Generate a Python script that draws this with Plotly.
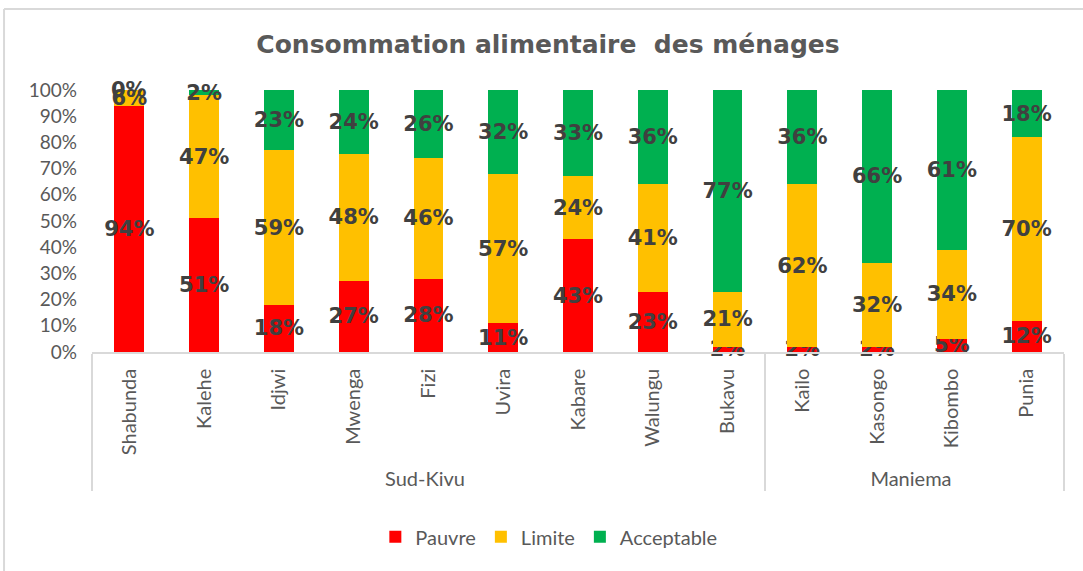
import plotly.graph_objects as go

# Données (en %)
provinces = ["Sud-Kivu"] * 9 + ["Maniema"] * 4
territoires = ["Shabunda", "Kalehe", "Idjwi", "Mwenga", "Fizi", "Uvira", "Kabare",
               "Walungu", "Bukavu", "Kailo", "Kasongo", "Kibombo", "Punia"]
pauvre = [94, 51, 18, 27, 28, 11, 43, 23, 2, 2, 2, 5, 12]
limite = [6, 47, 59, 48, 46, 57, 24, 41, 21, 62, 32, 34, 70]
acceptable = [0, 2, 23, 24, 26, 32, 33, 36, 77, 36, 66, 61, 18]
y_ticks = [0, 10, 20, 30, 40, 50, 60, 70, 80, 90, 100]

series = [
    ("Pauvre", pauvre, "#FF0000"),
    ("Limite", limite, "#FFC000"),
    ("Acceptable", acceptable, "#00B050"),
]

label_font = dict(family="DejaVu Sans", size=21, color="#404040", weight="bold")

fig = go.Figure()
for name, vals, color in series:
    fig.add_trace(go.Bar(
        x=[provinces, territoires],
        y=vals,
        name=name,
        marker=dict(color=color, line=dict(width=0)),
        text=[f"{v}%" for v in vals],
        textposition="inside",
        insidetextanchor="middle",
        textangle=0,
        textfont=label_font,
        constraintext="none",
        cliponaxis=False,
    ))

# étiquettes des segments nuls (plotly n'affiche pas le texte d'une barre de hauteur 0)
annotations = []
base = [0] * len(territoires)
for name, vals, color in series:
    for i, v in enumerate(vals):
        if v == 0:
            total = pauvre[i] + limite[i] + acceptable[i]
            annotations.append(dict(
                x=i, y=100 * base[i] / total, xref="x", yref="y", text=f"{v}%",
                showarrow=False, font=label_font,
            ))
        base[i] += v

fig.update_layout(
    barmode="stack",
    barnorm="percent",
    bargap=0.6,
    width=1083, height=571,
    margin=dict(l=92, r=19, t=90, b=219),
    paper_bgcolor="white",
    plot_bgcolor="white",
    title=dict(
        text="Consommation alimentaire  des ménages",
        x=0.506, xanchor="center", y=0.923, yanchor="middle",
        font=dict(family="DejaVu Sans", size=25, color="#595959", weight="bold"),
    ),
    uniformtext=dict(minsize=21, mode="show"),
    annotations=annotations,
    legend=dict(
        orientation="h", x=0.47, xanchor="center", y=-0.705, yanchor="middle",
        font=dict(family="Lato", size=20, color="#595959"),
        itemwidth=30, traceorder="normal",
    ),
    xaxis=dict(
        type="multicategory",
        tickangle=-90,
        tickfont=dict(family="Lato", size=20, color="#595959"),
        showline=True, linecolor="#D9D9D9", linewidth=1.5,
        showdividers=True, dividercolor="#D9D9D9", dividerwidth=1.5,
        ticks="", showgrid=False,
        ticklabelstandoff=7,
    ),
    yaxis=dict(
        range=[0, 100],
        tickvals=y_ticks,
        ticktext=[f"{v}%" for v in y_ticks],
        tickfont=dict(family="Lato", size=19, color="#595959"),
        showgrid=False, zeroline=False, showline=False,
        ticklabelstandoff=14,
    ),
    shapes=[
        dict(type="line", xref="paper", yref="paper",
             x0=-0.0905, x1=1.03, y0=1.309, y1=1.309,
             line=dict(color="#D9D9D9", width=2)),
        dict(type="line", xref="paper", yref="paper",
             x0=-0.0905, x1=-0.0905, y0=1.309, y1=-0.84,
             line=dict(color="#D9D9D9", width=2)),
    ],
)

fig.write_html("out.html", config={"displayModeBar": False},
               post_script="document.body.style.margin='0';")
